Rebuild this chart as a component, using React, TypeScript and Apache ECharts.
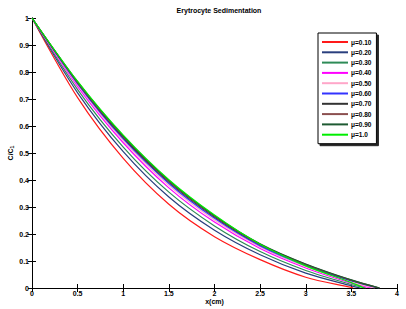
import React, { useEffect, useRef } from "react";
import * as echarts from "echarts";

const xPoints = [0, 0.5, 1, 1.5, 2, 2.5, 3, 3.5];
const muLabels = ["μ=0.10", "μ=0.20", "μ=0.30", "μ=0.40", "μ=0.50", "μ=0.60", "μ=0.70", "μ=0.80", "μ=0.90", "μ=1.0"];
const colors = ["#ff1a1a", "#2a3f7e", "#2e8b57", "#ff00ff", "#ffa6c9", "#3333ff", "#333333", "#8b4f4f", "#1e5a32", "#00ee00"];
// values at xPoints; zeroX gives the x where each curve reaches zero
const s010 = [1, 0.705, 0.48, 0.31, 0.19, 0.105, 0.04, 0.002];
const s020 = [1, 0.723, 0.505, 0.337, 0.214, 0.123, 0.055, 0.008];
const s030 = [1, 0.735, 0.522, 0.355, 0.23, 0.135, 0.065, 0.013];
const s040 = [1, 0.746, 0.538, 0.371, 0.244, 0.146, 0.074, 0.018];
const s050 = [1, 0.752, 0.546, 0.38, 0.252, 0.152, 0.079, 0.022];
const s060 = [1, 0.756, 0.552, 0.387, 0.258, 0.156, 0.083, 0.026];
const s070 = [1, 0.76, 0.557, 0.392, 0.263, 0.16, 0.086, 0.028];
const s080 = [1, 0.762, 0.561, 0.395, 0.266, 0.162, 0.088, 0.029];
const s090 = [1, 0.764, 0.563, 0.398, 0.268, 0.164, 0.089, 0.03];
const s100 = [1, 0.765, 0.566, 0.401, 0.27, 0.162, 0.082, 0.02];
const zeroX = [3.52, 3.6, 3.66, 3.72, 3.76, 3.8, 3.8, 3.81, 3.81, 3.64];
const seriesValues = [s010, s020, s030, s040, s050, s060, s070, s080, s090, s100];

export default function App() {
  const ref = useRef<HTMLDivElement>(null);
  useEffect(() => {
    if (!ref.current) return;
    const chart = echarts.init(ref.current, undefined, { renderer: "svg" });
    const font = "Liberation Sans, Arial, sans-serif";
    const series = seriesValues.map((vals, i) => ({
      name: muLabels[i],
      type: "line",
      xAxisIndex: 0,
      yAxisIndex: 0,
      smooth: 0.3,
      symbol: "none",
      lineStyle: { color: colors[i], width: 1.2 },
      itemStyle: { color: colors[i] },
      data: [...vals.map((v, j) => [xPoints[j], v]).filter((p) => (p[0] as number) < zeroX[i]), [zeroX[i], 0]],
      z: 2 + i,
    }));
    const tickLabel = { fontSize: 7, fontFamily: font, color: "#000", fontWeight: "bold" as const };
    chart.setOption({
      animation: false,
      backgroundColor: "#fff",
      title: {
        text: "Erytrocyte Sedimentation",
        left: 214,
        top: 2,
        textAlign: "center",
        textStyle: { fontSize: 7, fontFamily: font, color: "#000", fontWeight: "bold" },
      },
      legend: {
        orient: "vertical",
        left: 318,
        top: 33,
        icon: "rect",
        itemWidth: 26,
        itemHeight: 2,
        itemGap: 2.3,
        padding: [5, 5, 5, 4],
        backgroundColor: "#fff",
        borderColor: "#000",
        borderWidth: 1,
        shadowColor: "rgba(0,0,0,0.85)",
        shadowOffsetX: 2,
        shadowOffsetY: 2,
        shadowBlur: 0,
        textStyle: { fontSize: 6.5, fontFamily: font, color: "#000", fontWeight: "bold", lineHeight: 8, padding: [0, 0, 0, -2] },
        data: muLabels,
      },
      grid: { left: 32, right: 9, top: 18, bottom: 21, containLabel: false, outerBoundsMode: "none" },
      xAxis: [
        {
          type: "value",
          min: 0,
          max: 4,
          interval: 0.5,
          name: "x(cm)",
          nameLocation: "middle",
          nameGap: 10,
          nameMoveOverlap: false,
          nameTextStyle: { fontSize: 7, fontFamily: font, color: "#000", fontWeight: "bold" },
          axisLine: { onZero: false, lineStyle: { color: "#000", width: 1 } },
          axisTick: { inside: true, length: 4, lineStyle: { color: "#000" } },
          axisLabel: { ...tickLabel, margin: 2 },
          splitLine: { show: false },
        },
        {
          type: "value",
          position: "top",
          min: 0,
          max: 4,
          interval: 0.5,
          axisLine: { lineStyle: { color: "#000", width: 1 } },
          axisTick: { inside: true, length: 4, lineStyle: { color: "#000" } },
          axisLabel: { show: false },
          splitLine: { show: false },
        },
      ],
      yAxis: [
        {
          type: "value",
          min: 0,
          max: 1,
          interval: 0.1,
          name: "C/C{sub|1}",
          nameLocation: "middle",
          nameGap: 18,
          nameMoveOverlap: false,
          nameRotate: 90,
          nameTextStyle: {
            fontSize: 7,
            fontFamily: font,
            color: "#000",
            fontWeight: "bold",
            rich: { sub: { fontSize: 5, fontFamily: font, fontWeight: "bold", color: "#000", verticalAlign: "bottom", padding: [3, 0, 0, 0] } },
          },
          axisLine: { onZero: false, lineStyle: { color: "#000", width: 1 } },
          axisTick: { inside: true, length: 4, lineStyle: { color: "#000" } },
          axisLabel: {
            ...tickLabel,
            margin: 3,
            formatter: (v: number) => (v === 0 ? "0" : v === 1 ? "1" : v.toFixed(1)),
          },
          splitLine: { show: false },
        },
        {
          type: "value",
          position: "right",
          min: 0,
          max: 1,
          interval: 0.1,
          axisLine: { lineStyle: { color: "#000", width: 1 } },
          axisTick: { inside: true, length: 4, lineStyle: { color: "#000" } },
          axisLabel: { show: false },
          splitLine: { show: false },
        },
      ],
      series,
    });
    return () => chart.dispose();
  }, []);
  return <div ref={ref} style={{ width: 406, height: 309, position: "absolute", left: 0, top: 0 }} />;
}
